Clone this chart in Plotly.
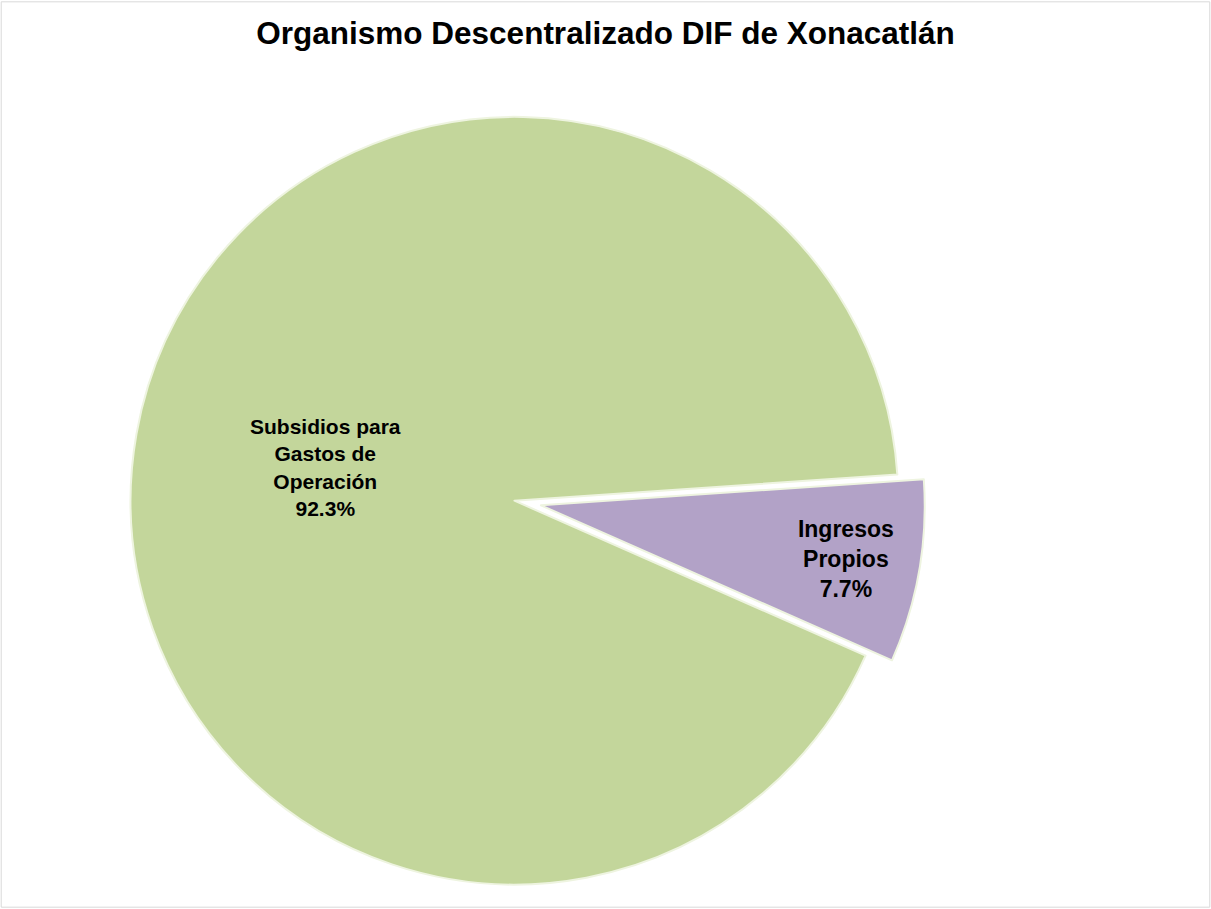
import plotly.graph_objects as go

title_text = "Organismo Descentralizado DIF de Xonacatlán"
labels = ["Ingresos<br>Propios", "Subsidios para<br>Gastos de<br>Operación"]
values = [7.7, 92.3]
colors = ["#B2A2C7", "#C3D69B"]
pulls = [0.05, 0.02]

W, H = 1211, 909

fig = go.Figure(
    go.Pie(
        labels=labels,
        values=values,
        sort=False,
        direction="clockwise",
        rotation=86.1,
        pull=pulls,
        marker=dict(colors=colors, line=dict(color="#EEF4E0", width=2)),
        textinfo="label+percent",
        texttemplate="<b>%{label}<br>%{percent:.1%}</b>",
        textposition="inside",
        insidetextorientation="horizontal",
        insidetextfont=dict(family="Liberation Sans, Arial, sans-serif", size=[23, 21], color="#000000"),
        showlegend=False,
        hoverinfo="label+percent",
        domain=dict(x=[119 / W, 925 / W], y=[1 - 905 / H, 1 - 99 / H]),
    )
)

fig.update_layout(
    width=W,
    height=H,
    margin=dict(l=0, r=0, t=0, b=0),
    paper_bgcolor="white",
    plot_bgcolor="white",
    title=dict(
        text="<b>" + title_text + "</b>",
        x=0.5,
        xanchor="center",
        y=1 - 33 / H,
        yanchor="middle",
        font=dict(family="Liberation Sans, Arial, sans-serif", size=31.5, color="#000000"),
    ),
    shapes=[
        dict(
            type="rect",
            xref="paper",
            yref="paper",
            x0=0.001,
            x1=0.999,
            y0=0.002,
            y1=0.998,
            line=dict(color="#D9D9D9", width=1),
            fillcolor="rgba(0,0,0,0)",
        )
    ],
)

fig.write_html(
    "out.html",
    config={"displayModeBar": False},
    post_script="document.body.style.margin='0';document.body.style.overflow='hidden';",
)
